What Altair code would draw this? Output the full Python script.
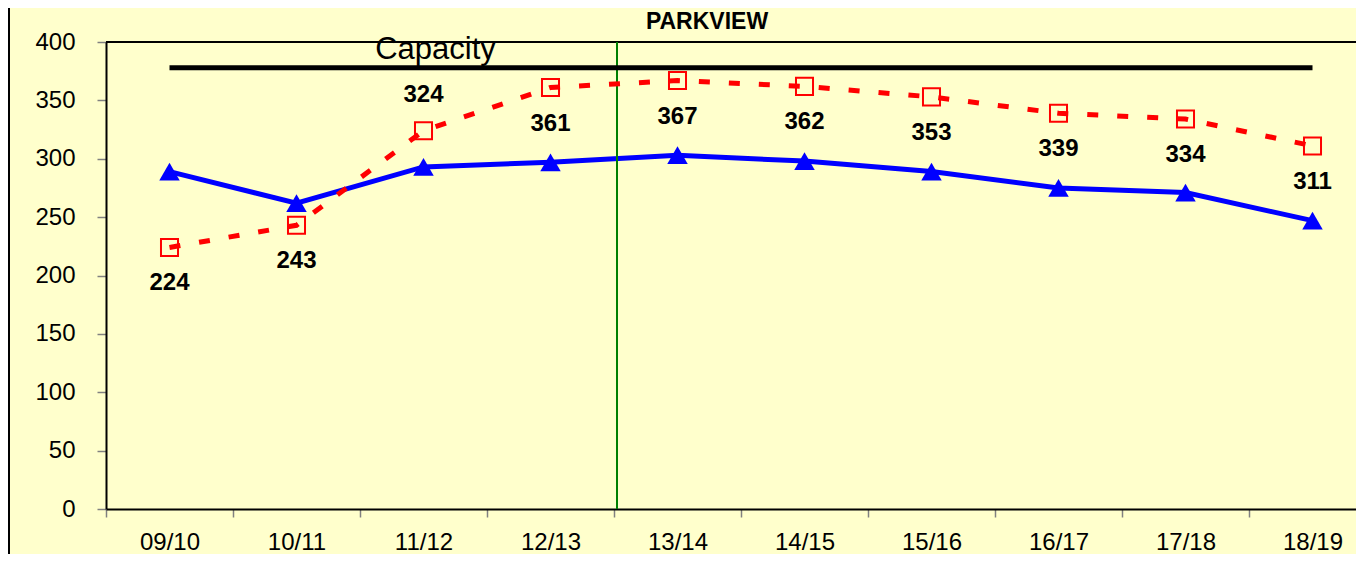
import altair as alt
import pandas as pd

years = ["09/10", "10/11", "11/12", "12/13", "13/14", "14/15", "15/16", "16/17", "17/18", "18/19"]
enrolment = [289, 262, 293, 297, 303, 298, 289, 275, 271, 247]
projection = [224, 243, 324, 361, 367, 362, 353, 339, 334, 311]
capacity_value = 378
capacity_label = "Capacity"
capacity_label_year = "11/12"
labels_above = ["11/12"]
divider_year = "13/14"
y_ticks = [0, 50, 100, 150, 200, 250, 300, 350, 400]
title_text = "PARKVIEW"

BG = "#FFFFCC"
FONT = "Liberation Sans"

PLOT_W = 1250          # visible plot width (the right part is cut like the reference)
PLOT_H = 467
STEP = 127             # pixel width of one year band
x_max = -0.5 + PLOT_W / STEP

idx = list(range(len(years)))
df = pd.DataFrame({
    "year": years,
    "idx": idx,
    "enrol": enrolment,
    "proj": projection,
    "cap": [capacity_value] * len(years),
})
df["above"] = df["year"].isin(labels_above)
df_cap_label = pd.DataFrame({"idx": [years.index(capacity_label_year)], "cap": [capacity_value], "txt": [capacity_label]})
df_div = pd.DataFrame({"pos": [years.index(divider_year) - 0.5]})
df_title = pd.DataFrame({"t": [title_text]})

years_js = "[" + ",".join(f"'{y}'" for y in years) + "]"
boundaries = [i - 0.5 for i in idx]

x_scale = alt.Scale(domain=[-0.5, x_max], nice=False, zero=False)

x_enc = alt.X(
    "idx:Q",
    scale=x_scale,
    axis=alt.Axis(
        title=None, values=boundaries, labelExpr=f"{years_js}[round(datum.value + 0.5)]",
        labelOffset=STEP / 2, labelFlush=False, labelOverlap=False, labelBound=False,
        labelFontSize=24, labelFont=FONT, labelColor="black",
        labelAngle=0, labelPadding=13, domainColor="black", domainWidth=2,
        tickColor="#808080", tickSize=8, tickWidth=1.5, grid=False,
    ),
)


def y_enc(field):
    return alt.Y(
        f"{field}:Q",
        scale=alt.Scale(domain=[0, 400], nice=False),
        axis=alt.Axis(
            values=y_ticks, title=None, labelFontSize=24, labelFont=FONT,
            labelColor="black", domainColor="black", domainWidth=2,
            tickColor="#808080", tickSize=9, tickWidth=1.5, labelPadding=22, grid=False,
        ),
    )


base = alt.Chart(df)

top_border = alt.Chart(df_title).mark_rule(color="black", strokeWidth=2).encode(
    x=alt.value(0), x2=alt.value(PLOT_W), y=alt.value(0))

blue_line = base.mark_line(color="#0000FF", strokeWidth=5).encode(x=x_enc, y=y_enc("enrol"))
blue_pts = base.mark_point(shape="triangle-up", filled=True, color="#0000FF", size=420, opacity=1).encode(
    x=x_enc, y=y_enc("enrol"))

divider = alt.Chart(df_div).mark_rule(color="#008000", strokeWidth=2, xOffset=3).encode(
    x=alt.X("pos:Q", scale=x_scale),
    y=alt.value(0), y2=alt.value(PLOT_H))

cap_line = base.mark_line(color="black", strokeWidth=5).encode(x=x_enc, y=y_enc("cap"))
cap_text = alt.Chart(df_cap_label).mark_text(
    fontSize=31, font=FONT, color="black", dx=12, dy=-9, baseline="alphabetic", align="center"
).encode(x=x_enc, y=y_enc("cap"), text="txt:N")

red_line = base.mark_line(color="#FF0000", strokeWidth=5, strokeDash=[11, 19]).encode(
    x=x_enc, y=y_enc("proj"))
red_pts = base.mark_point(shape="square", filled=False, color="#FF0000", strokeWidth=2, size=290, opacity=1).encode(
    x=x_enc, y=y_enc("proj"))

red_lbl_below = base.transform_filter("!datum.above").mark_text(
    fontSize=24, font=FONT, fontWeight="bold", color="black", dy=36, baseline="middle"
).encode(x=x_enc, y=y_enc("proj"), text="proj:Q")
red_lbl_above = base.transform_filter("datum.above").mark_text(
    fontSize=24, font=FONT, fontWeight="bold", color="black", dy=-36, baseline="middle"
).encode(x=x_enc, y=y_enc("proj"), text="proj:Q")

title_mark = alt.Chart(df_title).mark_text(
    fontSize=23, font=FONT, fontWeight="bold", color="black", baseline="alphabetic", align="center"
).encode(x=alt.value(601), y=alt.value(-13), text="t:N")

border = alt.Chart(df_title).mark_rule(color="black", strokeWidth=2).encode(
    x=alt.value(-97), y=alt.value(-40), y2=alt.value(530))

chart = alt.layer(
    top_border, blue_line, blue_pts, divider, cap_line, cap_text, red_line, red_pts,
    red_lbl_below, red_lbl_above, title_mark, border,
).properties(
    width=PLOT_W,
    height=PLOT_H,
    background=BG,
    padding={"left": 98, "top": 34, "right": 0, "bottom": 45},
    autosize=alt.AutoSizeParams(type="none"),
).configure_view(strokeWidth=0, fill=BG)

chart.save("out.html", embed_options={"renderer": "svg", "actions": False})
